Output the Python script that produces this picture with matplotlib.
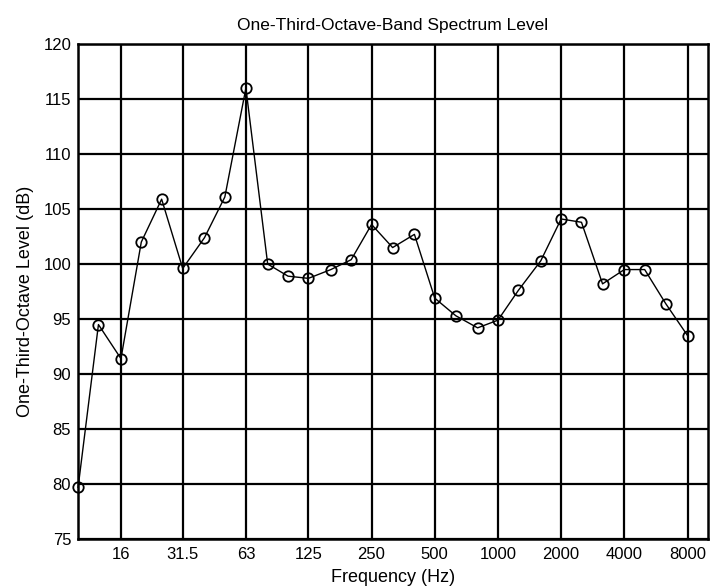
import matplotlib
matplotlib.use("Agg")
import matplotlib.pyplot as plt
import numpy as np

# One-third-octave band centre frequencies (Hz) and measured levels (dB)
bands_hz = [10, 12.5, 16, 20, 25, 31.5, 40, 50, 63, 80, 100, 125, 160, 200, 250,
            315, 400, 500, 630, 800, 1000, 1250, 1600, 2000, 2500, 3150, 4000,
            5000, 6300, 8000]
levels_db = [79.7, 94.5, 91.4, 102.0, 105.9, 99.6, 102.4, 106.1, 116.0, 100.0,
             98.9, 98.7, 99.5, 100.4, 103.6, 101.5, 102.7, 96.9, 95.3, 94.2,
             94.9, 97.6, 100.3, 104.1, 103.8, 98.2, 99.5, 99.5, 96.4, 93.5]

# Octave tick positions and labels
octave_ticks = [16, 31.5, 63, 125, 250, 500, 1000, 2000, 4000, 8000]
octave_labels = ["16", "31.5", "63", "125", "250", "500", "1000", "2000", "4000", "8000"]
level_ticks = [75, 80, 85, 90, 95, 100, 105, 110, 115, 120]

plt.rcParams['font.family'] = ['Liberation Sans', 'DejaVu Sans']

fig = plt.figure(figsize=(7.10, 5.88), dpi=100)
ax = fig.add_axes([0.110, 0.0833, 0.887, 0.8417])

ax.set_xscale('log')
ax.set_xlim(10, 10000)
ax.set_ylim(75, 120)

ax.plot(bands_hz, levels_db, color='black', linewidth=1.0, marker='o',
        markersize=7.5, markerfacecolor='none', markeredgecolor='black',
        markeredgewidth=1.3, clip_on=False, zorder=3)

ax.set_xticks(octave_ticks)
ax.set_xticklabels(octave_labels)
ax.xaxis.set_minor_locator(matplotlib.ticker.NullLocator())
ax.set_yticks(level_ticks)

ax.grid(True, which='major', color='black', linewidth=1.6)
ax.tick_params(axis='both', length=0, labelsize=12)
ax.tick_params(axis='y', pad=5)
ax.tick_params(axis='x', pad=6)
for s in ax.spines.values():
    s.set_linewidth(1.8)
    s.set_color('black')

ax.set_title("One-Third-Octave-Band Spectrum Level", fontsize=12.5, pad=10)
ax.set_xlabel("Frequency (Hz)", fontsize=13, labelpad=5)
ax.set_ylabel("One-Third-Octave Level (dB)", fontsize=13, labelpad=6)
ax.yaxis.set_label_coords(-0.07, 0.48)

fig.savefig("out.png", dpi=100)
